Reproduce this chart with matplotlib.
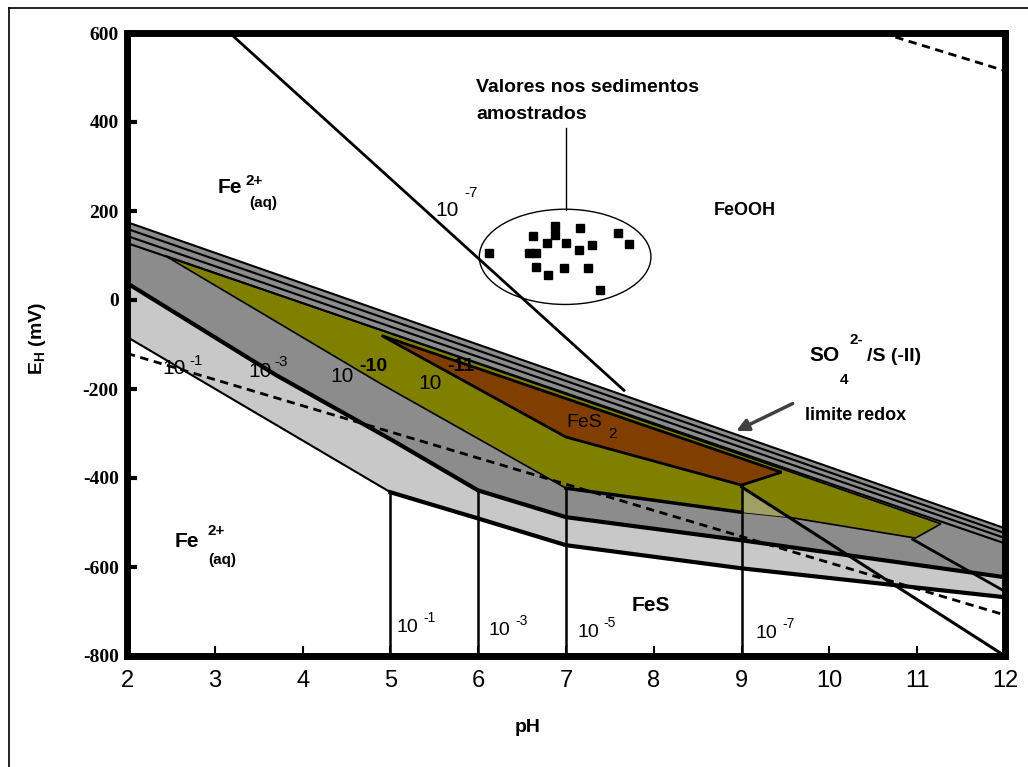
import matplotlib
matplotlib.use("Agg")
import matplotlib.pyplot as plt
from matplotlib.patches import Polygon, Ellipse
from matplotlib.lines import Line2D

plt.rcParams["font.family"] = ["Liberation Sans", "DejaVu Sans"]
plt.rcParams["axes.unicode_minus"] = False
plt.rcParams["mathtext.fontset"] = "custom"
plt.rcParams["mathtext.rm"] = "Liberation Sans:bold"
plt.rcParams["mathtext.it"] = "Liberation Sans:bold"
plt.rcParams["mathtext.bf"] = "Liberation Sans:bold"

# axes
PH_TICKS = [2, 3, 4, 5, 6, 7, 8, 9, 10, 11, 12]
E_TICKS = [-800, -600, -400, -200, 0, 200, 400, 600]

# SO4/S(-II) redox limit: four near-parallel lines
REDOX_PH = [2, 12]
REDOX_E1 = [175, -513]
REDOX_E2 = [160, -524]
REDOX_E3 = [144, -535]
REDOX_E4 = [128, -547]

# lower boundary of the pyrite field, Fe 10^-1 (light gray)
R1_PH = [2, 5, 6, 7, 9, 12]
R1_E = [-83, -432, -491, -551, -603, -668]

# lower boundary of the pyrite field, Fe 10^-3 (gray)
R3_PH = [2, 3.7, 5.02, 6, 7, 9, 12]
R3_E = [38, -169, -315, -428, -488, -540, -623]

# olive field
OLIVE_PH = [2.43, 11.27, 10.98, 9.53, 9.0, 7.0, 4.88]
OLIVE_E = [100, -503, -535, -488, -477, -423, -187]

# pale olive wedge
PALE_PH = [9.0, 9.53, 9.0]
PALE_E = [-423, -488, -477]

# brown field (FeS2)
BROWN_PH = [4.9, 9.455, 9.0, 7.0]
BROWN_E = [-80, -387, -416, -308]

# Fe2+/FeS verticals
VERT_PH = [5, 6, 7, 9]
VERT_TOP = [-432, -428, -423, -416]

# other boundaries
FEOOH_PH = [3.17, 7.66]
FEOOH_E = [600, -203]
DIAG_A_PH = [9.0, 12]
DIAG_A_E = [-420, -800]
DIAG_B_PH = [10.95, 12]
DIAG_B_E = [-538, -655]
WATER_LOW_PH = [2, 12]
WATER_LOW_E = [-120, -708]
WATER_HIGH_PH = [10.6, 12]
WATER_HIGH_E = [600, 515]

# sediment samples
SED_PH = [6.12, 6.88, 7.16, 6.62, 6.88, 6.78, 7.00, 7.59, 7.72, 7.30,
          7.15, 6.58, 6.66, 6.66, 6.80, 6.98, 7.25, 7.39]
SED_E = [105, 167, 161, 144, 146, 128, 128, 150, 125, 124,
         112, 105, 105, 75, 56, 71, 71, 22]

LIGHT = "#c8c8c8"
GRAY = "#8c8c8c"
OLIVE = "#808000"
PALE = "#a0a064"
BROWN = "#803f00"

fig = plt.figure(figsize=(10.28, 7.67), dpi=100)
ax = fig.add_axes([127 / 1028, 1 - 656 / 767, (1005 - 127) / 1028, (656 - 33) / 767])
ax.set_xlim(2, 12)
ax.set_ylim(-800, 600)

r1 = list(zip(REDOX_PH, REDOX_E1)) + list(zip(R1_PH[::-1], R1_E[::-1]))
r3 = list(zip(REDOX_PH, REDOX_E1)) + list(zip(R3_PH[::-1], R3_E[::-1]))
ax.add_patch(Polygon(r1, closed=True, fc=LIGHT, ec="none", zorder=1))
ax.add_patch(Polygon(r3, closed=True, fc=GRAY, ec="none", zorder=2))
ax.add_patch(Polygon(list(zip(OLIVE_PH, OLIVE_E)), closed=True, fc=OLIVE,
                     ec="black", lw=1.2, zorder=3))
ax.add_patch(Polygon(list(zip(PALE_PH, PALE_E)), closed=True, fc=PALE,
                     ec="none", zorder=3.5))
ax.add_patch(Polygon(list(zip(BROWN_PH, BROWN_E)), closed=True, fc=BROWN,
                     ec="black", lw=2, zorder=4))

for e in (REDOX_E1, REDOX_E2, REDOX_E3, REDOX_E4):
    ax.plot(REDOX_PH, e, color="black", lw=1.5, zorder=5)

ax.plot(R1_PH[:2], R1_E[:2], color="black", lw=1.5, zorder=5)
ax.plot(R1_PH[1:], R1_E[1:], color="black", lw=3, zorder=5)
ax.plot(R3_PH, R3_E, color="black", lw=3, zorder=5)
ax.plot(OLIVE_PH[4:6], OLIVE_E[4:6], color="black", lw=2.5, zorder=5)

for x, top in zip(VERT_PH, VERT_TOP):
    ax.plot([x, x], [-800, top], color="black", lw=1.8, zorder=5)

ax.plot(FEOOH_PH, FEOOH_E, color="black", lw=2, zorder=5)
ax.plot(DIAG_A_PH, DIAG_A_E, color="black", lw=2.2, zorder=5)
ax.plot(DIAG_B_PH, DIAG_B_E, color="black", lw=2, zorder=5)
ax.plot(WATER_LOW_PH, WATER_LOW_E, color="black", lw=2, ls=(0, (3, 2)), zorder=5)
ax.plot(WATER_HIGH_PH, WATER_HIGH_E, color="black", lw=2, ls=(0, (3, 2)), zorder=5)

# samples
ax.add_patch(Ellipse((6.99, 97), 1.955, 214, fill=False, ec="black", lw=1, zorder=6))
ax.plot([7.0, 7.0], [202, 387], color="black", lw=1, zorder=6)
ax.plot(SED_PH, SED_E, "s", color="black", markersize=5.5, zorder=7)
ax.text(5.977, 477, "Valores nos sedimentos", fontsize=14, fontweight="bold",
        ha="left", va="center")
ax.text(5.977, 416, "amostrados", fontsize=14, fontweight="bold",
        ha="left", va="center")

ax.annotate("", xy=(8.91, -297), xytext=(9.61, -230),
            arrowprops=dict(arrowstyle="-|>", color="#404040", lw=2.5,
                            mutation_scale=18), zorder=8)


def label(x, y, s, size, weight="normal", ha="center"):
    ax.text(x, y, s, fontsize=size, fontweight=weight, ha=ha, va="center", zorder=10)


# species
label(3.17, 252, "Fe", 15, "bold")
label(3.443, 268, "2+", 11, "bold")
label(3.557, 218, "(aq)", 11, "bold")
label(2.682, -542, "Fe", 15, "bold")
label(3.011, -518, "2+", 11, "bold")
label(3.08, -585, "(aq)", 11, "bold")
label(9.034, 202, "FeOOH", 13, "bold")
label(7.205, -275, "FeS", 14)
label(7.534, -302, "2", 11)
label(7.966, -686, "FeS", 15, "bold")

# redox limit label
label(9.947, -124, "SO", 15, "bold")
label(10.307, -90, "2-", 11, "bold")
label(10.17, -180, "4", 11, "bold")
label(10.43, -126, "/S (-II)", 14, "bold", ha="left")
label(9.727, -259, "limite redox", 13, "bold", ha="left")

# activity labels
label(5.648, 202, "10", 15)
label(5.92, 241, "-7", 11)
for x, y, s in [(5.193, -736, "-1"), (6.239, -743, "-3"), (7.25, -747, "-5"),
                (9.284, -749, "-7")]:
    label(x, y, "10", 14)
    label(x + 0.25, y + 22, s, 10)
label(2.534, -153, "10", 15)
label(2.784, -137, "-1", 11)
label(3.511, -160, "10", 15)
label(3.75, -140, "-3", 11)
label(4.455, -173, "10", 15)
label(4.807, -149, "-10", 14, "bold")
label(5.455, -187, "10", 15)
label(5.807, -149, "-11", 14, "bold")

# axes styling
for sp in ax.spines.values():
    sp.set_linewidth(5)
ax.set_xticks(PH_TICKS)
ax.set_yticks(E_TICKS)
ax.tick_params(axis="x", direction="in", length=7, width=1.5, pad=10,
               labelsize=17)
ax.tick_params(axis="y", direction="in", length=7, width=3, pad=6)
for t in ax.get_yticklabels():
    t.set_fontfamily("Liberation Serif")
    t.set_fontweight("bold")
    t.set_fontsize(14)

fig.text(0.5136, 0.052, "pH", fontsize=14, fontweight="bold", ha="center", va="center")
fig.text(0.036, 0.559, r"$\mathrm{E_H}$ (mV)", fontsize=14, fontweight="bold",
         rotation=90, ha="center", va="center")

# outer frame of the original figure
fig.add_artist(Line2D([9 / 1028, 9 / 1028], [0, 1 - 8 / 767], color="black", lw=1.2))
fig.add_artist(Line2D([9 / 1028, 1], [1 - 8 / 767, 1 - 8 / 767], color="black", lw=1.2))

fig.savefig("out.png", dpi=100)
